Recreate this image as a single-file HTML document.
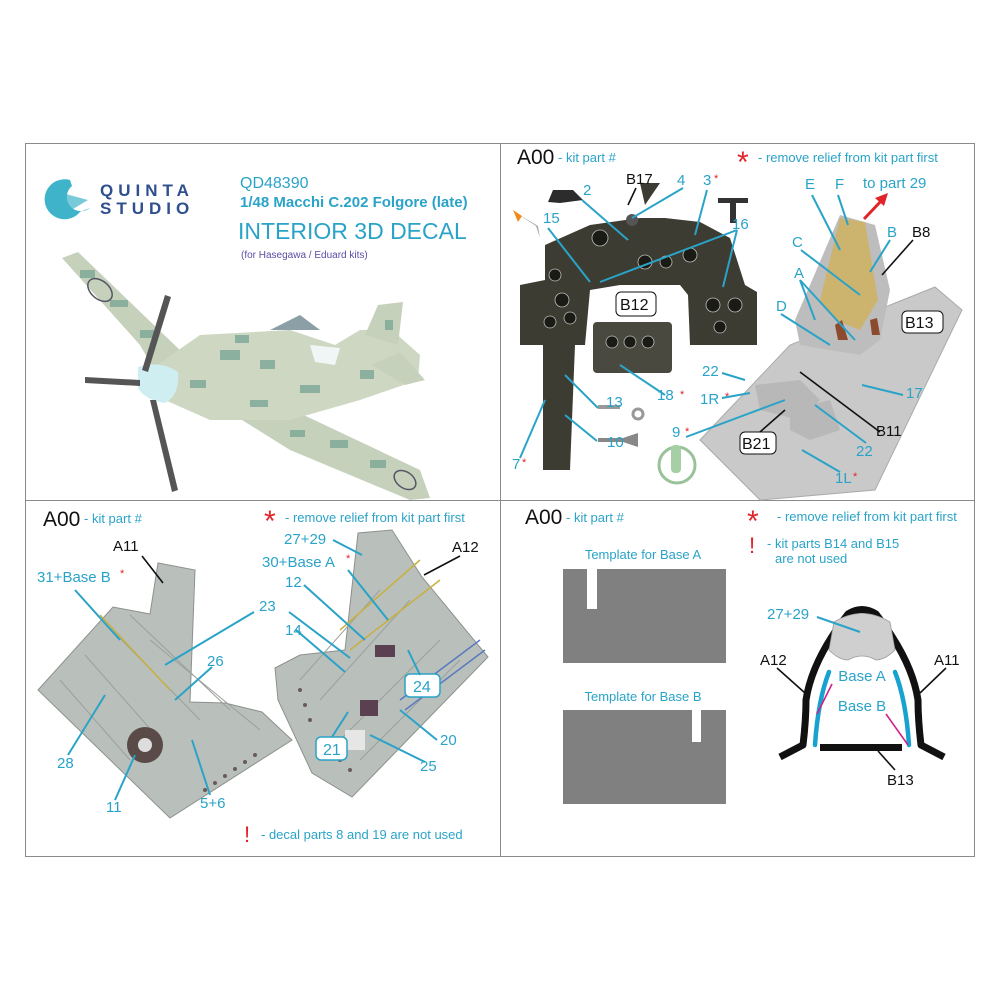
<!DOCTYPE html>
<html><head><meta charset="utf-8"><style>
html,body{margin:0;padding:0;background:#fff}
svg{display:block}
text{font-family:"Liberation Sans",Arial,sans-serif}
.c{fill:#2aa3c8}.k{fill:#111}.r{fill:#e0242a}
.l{stroke:#2aa3c8;stroke-width:2;fill:none}
.lk{stroke:#111;stroke-width:1.6;fill:none}
</style></head><body>
<svg width="1000" height="1000" viewBox="0 0 1000 1000" xmlns="http://www.w3.org/2000/svg">
<rect width="1000" height="1000" fill="#fff"/>
<rect x="25.5" y="143.5" width="949" height="713" fill="none" stroke="#8a8a8a"/>
<line x1="500.5" y1="143" x2="500.5" y2="857" stroke="#8a8a8a"/>
<line x1="25" y1="500.5" x2="975" y2="500.5" stroke="#8a8a8a"/>

<!-- ===== TOP LEFT ===== -->
<path d="M70 180 A20 20 0 1 0 80 212 L90 208 A14 14 0 1 1 72 186 Z" fill="#3fb3c9"/>
<path d="M62 193 L88 200 L68 212 Z" fill="#3fb3c9" opacity=".7"/>
<text x="100" y="196" font-size="17" font-weight="bold" fill="#2f4f8f" letter-spacing="5">QUINTA</text>
<text x="100" y="214" font-size="17" font-weight="bold" fill="#2f4f8f" letter-spacing="5">STUDIO</text>
<text x="240" y="188" font-size="16" class="c">QD48390</text>
<text x="240" y="207" font-size="15" font-weight="bold" class="c">1/48 Macchi C.202 Folgore (late)</text>
<text x="238" y="239" font-size="23" class="c">INTERIOR 3D DECAL</text>
<text x="241" y="258" font-size="10" fill="#5a4ea6">(for Hasegawa / Eduard kits)</text>
<!-- plane -->
<g>
<path d="M62 258 L78 252 L185 355 L160 380 L140 345 Z" fill="#c6d1bb"/>
<path d="M210 400 L240 385 L420 470 L430 498 L410 500 L290 450 Z" fill="#c6d1bb"/>
<path d="M150 370 L200 335 L290 330 L335 345 L360 330 L392 330 L420 355 L418 380 L360 400 L290 420 L210 420 L165 400 Z" fill="#cdd7c2"/>
<path d="M365 335 L378 305 L403 302 L398 345 Z" fill="#c6d1bb"/>
<path d="M372 365 L400 352 L425 380 L405 385 Z" fill="#c6d1bb"/>
<path d="M270 330 L300 315 L320 330 Z" fill="#8aa0a6"/>
<path d="M310 345 L340 348 L335 365 L315 362 Z" fill="#f0f6f6"/>
<g fill="#7aa696" opacity=".8">
<path d="M80 270h15v8h-15z M110 300h18v7h-18z M140 330h14v8h-14z M220 350h20v10h-20z M260 360h15v9h-15z M190 380h16v8h-16z M300 385h20v8h-20z M250 400h18v7h-18z M330 440h18v8h-18z M370 460h16v8h-16z M290 430h15v7h-15z M360 370h14v9h-14z M385 320h8v10h-8z M235 335h14v8h-14z"/>
</g>
<ellipse cx="100" cy="290" rx="14" ry="9" fill="none" stroke="#556" stroke-width="1.5" transform="rotate(40 100 290)"/>
<ellipse cx="405" cy="480" rx="12" ry="8" fill="none" stroke="#556" stroke-width="1.5" transform="rotate(35 405 480)"/>
<path d="M138 367 Q160 360 178 372 Q180 395 165 403 Q145 400 138 388 Z" fill="#cfeef2"/>
<path d="M165 295 L171 297 L148 372 L142 370 Z" fill="#555"/>
<path d="M85 377 L140 380 L140 386 L85 383 Z" fill="#555"/>
<path d="M150 400 L156 400 L178 490 L172 492 Z" fill="#555"/>
</g>

<!-- ===== TOP RIGHT ===== -->
<text x="517" y="164" font-size="21" class="k">A00</text>
<text x="558" y="162" font-size="13" class="c">- kit part #</text>
<text x="737" y="172" font-size="30" class="r">*</text>
<text x="758" y="162" font-size="13" class="c">- remove relief from kit part first</text>
<!-- instrument panel -->
<path d="M545 245 L590 225 L640 218 L665 218 L700 222 L730 238 L745 285 L757 292 L757 345 L690 345 L688 295 L680 285 L620 285 L590 290 L585 345 L575 345 L570 470 L543 470 L543 345 L520 345 L520 285 L545 280 Z" fill="#3d3c32"/>
<rect x="593" y="322" width="79" height="51" rx="4" fill="#4a4940"/>
<g fill="#1b1b16" stroke="#bbb" stroke-width=".8">
<circle cx="600" cy="238" r="8"/><circle cx="645" cy="262" r="7"/><circle cx="666" cy="262" r="6"/><circle cx="690" cy="255" r="7"/>
<circle cx="562" cy="300" r="7"/><circle cx="570" cy="318" r="6"/><circle cx="550" cy="322" r="6"/><circle cx="555" cy="275" r="6"/>
<circle cx="713" cy="305" r="7"/><circle cx="735" cy="305" r="7"/><circle cx="720" cy="327" r="6"/>
<circle cx="612" cy="342" r="6"/><circle cx="630" cy="342" r="6"/><circle cx="648" cy="342" r="6"/>
</g>
<path d="M645 205 L640 183 L660 183 Z" fill="#3d3c32"/>
<circle cx="632" cy="220" r="6" fill="#555"/>
<path d="M553 190 L573 190 L583 200 L560 203 L548 202 Z" fill="#2c2c2c"/>
<path d="M516 213 L536 226 L540 238 L538 226 Z" fill="#aaa"/><path d="M513 210 L522 216 L518 222 Z" fill="#f08a1a"/>
<path d="M718 198 h30 v5 h-12 v20 h-6 v-20 h-12 Z" fill="#333"/>
<rect x="598" y="405" width="22" height="4" fill="#999"/><circle cx="638" cy="414" r="5" fill="none" stroke="#999" stroke-width="3"/>
<path d="M598 438 h25 l15 -5 v14 l-15 -5 h-25 Z" fill="#888"/>
<circle cx="677" cy="465" r="18" fill="none" stroke="#9ac29a" stroke-width="3"/><rect x="671" y="445" width="10" height="28" rx="4" fill="#a6cfa6"/>
<!-- seat & floor -->
<path d="M700 440 L790 345 L935 287 L962 310 L875 490 L760 500 Z" fill="#c9c9c9" stroke="#aaa"/>
<path d="M795 320 L825 250 L840 215 L875 225 L890 290 L880 340 L860 355 L830 350 L800 345 Z" fill="#bdbdbd"/>
<path d="M840 218 L865 222 L878 300 L860 330 L835 320 L820 300 Z" fill="#cdb46e"/>
<path d="M835 325 L842 320 L848 340 L838 340 Z M870 320 L877 318 L880 335 L872 335 Z" fill="#8c4b2e"/>
<path d="M755 385 L800 380 L820 400 L800 420 L760 410 Z" fill="#b8b8b8"/>
<path d="M790 410 L830 400 L840 430 L810 440 L790 430 Z" fill="#b8b8b8"/>
<!-- labels -->
<g font-size="15" class="c">
<text x="583" y="195">2</text><text x="677" y="185">4</text><text x="703" y="185">3</text><text x="543" y="223">15</text><text x="732" y="229">16</text>
<text x="805" y="189">E</text><text x="835" y="189">F</text><text x="863" y="188">to part 29</text><text x="887" y="237">B</text>
<text x="792" y="247">C</text><text x="794" y="278">A</text><text x="776" y="311">D</text>
<text x="702" y="376">22</text><text x="700" y="404">1R</text><text x="606" y="407">13</text><text x="657" y="400">18</text><text x="906" y="398">17</text>
<text x="672" y="437">9</text><text x="856" y="456">22</text><text x="835" y="483">1L</text><text x="607" y="447">10</text><text x="512" y="469">7</text>
</g>
<g font-size="11" class="r"><text x="714" y="182">*</text><text x="725" y="400">*</text><text x="680" y="398">*</text><text x="685" y="435">*</text><text x="853" y="480">*</text><text x="522" y="466">*</text></g>
<g font-size="15" class="k"><text x="626" y="184">B17</text><text x="912" y="237">B8</text><text x="876" y="436">B11</text></g>
<g font-size="16" class="k">
<rect x="616" y="292" width="40" height="24" rx="5" fill="#fff" stroke="#111"/><text x="620" y="310">B12</text>
<rect x="902" y="311" width="41" height="22" rx="5" fill="#fff" stroke="#111"/><text x="905" y="328">B13</text>
<rect x="740" y="432" width="36" height="22" rx="5" fill="#fff" stroke="#111"/><text x="742" y="449">B21</text>
</g>
<path d="M864 219 L883 199" stroke="#e0242a" stroke-width="3"/><path d="M888 193 L875 198 L884 206 Z" fill="#e0242a"/>
<g class="l">
<path d="M582 200 L628 240"/><path d="M683 188 L632 218"/><path d="M707 190 L695 235"/><path d="M548 228 L590 282"/>
<path d="M737 230 L600 282 M737 230 L723 287"/><path d="M812 195 L840 250"/><path d="M838 195 L848 225"/><path d="M890 240 L870 272"/>
<path d="M801 250 L860 295"/><path d="M800 280 L815 320 M800 280 L855 340"/><path d="M781 314 L830 345"/>
<path d="M722 373 L745 380"/><path d="M722 398 L750 393"/><path d="M598 408 L565 375"/><path d="M665 395 L620 365"/><path d="M903 395 L862 385"/>
<path d="M686 437 L785 400"/><path d="M866 443 L815 405"/><path d="M840 472 L802 450"/><path d="M597 441 L565 415"/><path d="M520 458 L545 400"/>
</g>
<g class="lk"><path d="M636 188 L628 205"/><path d="M913 240 L882 275"/><path d="M880 432 L800 372"/><path d="M760 432 L785 410"/></g>

<!-- ===== BOTTOM LEFT ===== -->
<text x="43" y="526" font-size="21" class="k">A00</text>
<text x="84" y="523" font-size="13" class="c">- kit part #</text>
<text x="264" y="531" font-size="30" class="r">*</text>
<text x="285" y="522" font-size="13" class="c">- remove relief from kit part first</text>
<path d="M38 690 L113 607 L150 614 L158 563 L195 570 L190 702 L225 703 L262 712 L292 740 L170 818 Z" fill="#b9bfba" stroke="#8d918d"/>
<path d="M275 668 L300 655 L345 650 L358 533 L392 530 L422 577 L488 657 L352 797 L312 773 L278 700 Z" fill="#b9bfba" stroke="#8d918d"/>
<g stroke="#9aa09b" stroke-width="1" fill="none">
<path d="M60 680 L130 760 M85 655 L160 740 M110 628 L200 720 M130 615 L230 710 M150 640 L260 730"/>
<path d="M300 680 L380 590 M320 700 L410 600 M340 740 L440 640 M360 760 L460 660"/>
</g>
<circle cx="145" cy="745" r="18" fill="#5a4a48"/><circle cx="145" cy="745" r="7" fill="#ddd"/>
<g fill="#6a5a5a"><circle cx="205" cy="790" r="2"/><circle cx="215" cy="783" r="2"/><circle cx="225" cy="776" r="2"/><circle cx="235" cy="769" r="2"/><circle cx="245" cy="762" r="2"/><circle cx="255" cy="755" r="2"/><circle cx="300" cy="690" r="2"/><circle cx="305" cy="705" r="2"/><circle cx="310" cy="720" r="2"/><circle cx="340" cy="760" r="2"/><circle cx="350" cy="770" r="2"/></g>
<path d="M100 615 L170 690" stroke="#c8b040" stroke-width="1.5"/><path d="M340 630 L420 560 M350 650 L440 580" stroke="#c8b040" stroke-width="1.5"/>
<path d="M400 700 L480 640 M405 710 L485 650" stroke="#5a7ac0" stroke-width="1.5"/>
<rect x="375" y="645" width="20" height="12" fill="#5a4050"/><rect x="360" y="700" width="18" height="16" fill="#5a4050"/><rect x="345" y="730" width="20" height="20" fill="#e6e6e6"/>
<g font-size="15" class="c">
<text x="37" y="582">31+Base B</text><text x="259" y="611">23</text><text x="207" y="666">26</text><text x="57" y="768">28</text><text x="106" y="812">11</text><text x="200" y="808">5+6</text>
<text x="284" y="544">27+29</text><text x="262" y="567">30+Base A</text><text x="285" y="587">12</text><text x="285" y="635">14</text><text x="440" y="745">20</text><text x="420" y="771">25</text>
</g>
<g font-size="11" class="r"><text x="120" y="577">*</text><text x="346" y="562">*</text></g>
<g font-size="15" class="k"><text x="113" y="551">A11</text><text x="452" y="552">A12</text></g>
<g font-size="16" class="c">
<rect x="405" y="674" width="35" height="23" rx="5" fill="#fff" stroke="#2aa3c8" stroke-width="1.5"/><text x="413" y="692">24</text>
<rect x="316" y="737" width="31" height="23" rx="5" fill="#fff" stroke="#2aa3c8" stroke-width="1.5"/><text x="323" y="755">21</text>
</g>
<g class="l">
<path d="M75 590 L120 640"/><path d="M254 612 L165 665"/><path d="M212 667 L175 700"/><path d="M68 755 L105 695"/><path d="M115 800 L135 755"/><path d="M210 795 L192 740"/>
<path d="M333 540 L362 555"/><path d="M348 570 L388 620"/><path d="M304 585 L365 640"/><path d="M296 630 L345 672"/><path d="M289 612 L350 658"/>
<path d="M437 740 L400 710"/><path d="M425 762 L370 735"/><path d="M420 675 L408 650"/><path d="M332 737 L348 712"/>
</g>
<g class="lk"><path d="M142 556 L163 583"/><path d="M460 556 L424 575"/></g>
<text x="244" y="842" font-size="22" class="r">!</text>
<text x="261" y="839" font-size="13" class="c">- decal parts 8 and 19 are not used</text>

<!-- ===== BOTTOM RIGHT ===== -->
<text x="525" y="524" font-size="21" class="k">A00</text>
<text x="566" y="522" font-size="13" class="c">- kit part #</text>
<text x="747" y="531" font-size="30" class="r">*</text>
<text x="777" y="521" font-size="13" class="c">- remove relief from kit part first</text>
<text x="749" y="553" font-size="22" class="r">!</text>
<text x="767" y="548" font-size="13" class="c">- kit parts B14 and B15</text>
<text x="775" y="563" font-size="13" class="c">are not used</text>
<text x="643" y="559" font-size="13" class="c" text-anchor="middle">Template for Base A</text>
<path d="M563 569 H587 V609 H597 V569 H726 V663 H563 Z" fill="#808080"/>
<text x="643" y="701" font-size="13" class="c" text-anchor="middle">Template for Base B</text>
<path d="M563 710 H692 V742 H701 V710 H726 V804 H563 Z" fill="#808080"/>
<!-- cross-section -->
<path d="M780 757 L803 745 Q806 720 806 700 Q812 660 848 614 Q862 605 876 614 Q912 660 918 700 Q918 720 921 745 L944 757" fill="none" stroke="#111" stroke-width="7" stroke-linejoin="round"/>
<path d="M834 622 Q862 605 890 622 L895 650 Q885 660 876 660 Q862 652 848 660 Q839 660 829 650 Z" fill="#cfcfcf" stroke="#999" stroke-width=".8"/>
<path d="M829 672 Q818 700 815 745 M895 672 Q906 700 909 745" fill="none" stroke="#18a2cf" stroke-width="4.5" stroke-linecap="round"/>
<rect x="820" y="744" width="82" height="7" fill="#111"/>
<path d="M832 684 L817 714 M886 714 L908 745" stroke="#d0208a" stroke-width="1.6"/>
<g font-size="15" class="c"><text x="767" y="619">27+29</text><text x="862" y="681" text-anchor="middle">Base A</text><text x="862" y="711" text-anchor="middle">Base B</text></g>
<path d="M817 617 L860 632" class="l"/>
<g font-size="15" class="k"><text x="760" y="665">A12</text><text x="934" y="665">A11</text><text x="887" y="785">B13</text></g>
<g class="lk"><path d="M777 668 L805 693"/><path d="M946 668 L920 693"/><path d="M895 770 L878 751"/></g>
</svg>
</body></html>
